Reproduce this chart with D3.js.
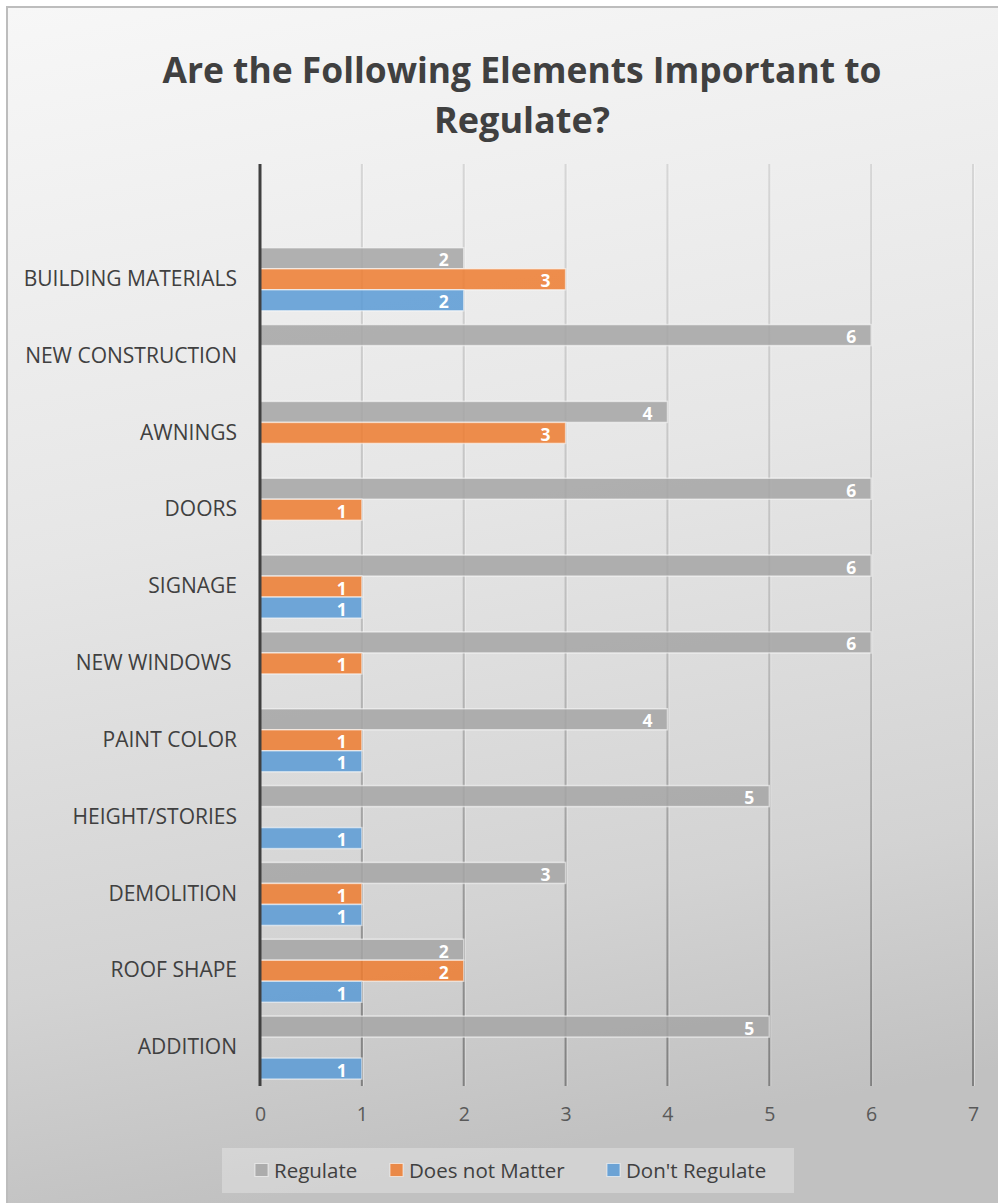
<!DOCTYPE html>
<html>
<head>
<meta charset="utf-8">
<script src="https://cdn.jsdelivr.net/npm/d3@7"></script>
<style>
  html, body { margin: 0; padding: 0; background: #ffffff; }
  svg { display: block; }
  text { font-family: "Open Sans", "Noto Sans", sans-serif; }
</style>
</head>
<body>
<svg id="chart" width="998" height="1203"></svg>
<script>
// ---------- data ----------
const categories = ["BUILDING MATERIALS", "NEW CONSTRUCTION", "AWNINGS", "DOORS", "SIGNAGE",
  "NEW WINDOWS ", "PAINT COLOR", "HEIGHT/STORIES", "DEMOLITION", "ROOF SHAPE", "ADDITION"];
const seriesNames = ["Regulate", "Does not Matter", "Don't Regulate"];
const regulate      = [2, 6, 4, 6, 6, 6, 4, 5, 3, 2, 5];
const doesNotMatter = [3, null, 3, 1, 1, 1, 1, null, 1, 2, null];
const dontRegulate  = [2, null, null, null, 1, null, 1, 1, 1, 1, 1];
const xTicks = [0, 1, 2, 3, 4, 5, 6, 7];
const titleLines = ["Are the Following Elements Important to", "Regulate?"];

const seriesValues = [regulate, doesNotMatter, dontRegulate];
const colors = ["#a5a5a5", "#ed7d31", "#5b9bd5"];

// ---------- layout ----------
const W = 998, H = 1203;
const plot = { left: 260, right: 973, top: 164, bottom: 1086 };

const svg = d3.select("#chart");
const defs = svg.append("defs");

const bg = defs.append("linearGradient").attr("id", "bg")
  .attr("x1", "0").attr("y1", "0").attr("x2", "0.15").attr("y2", "1");
[[0, "#f7f7f7"], [0.45, "#e6e6e6"], [0.8, "#d3d3d3"], [1, "#c1c1c1"]].forEach(([o, c]) =>
  bg.append("stop").attr("offset", o).attr("stop-color", c));

const gg = defs.append("linearGradient").attr("id", "grid")
  .attr("gradientUnits", "userSpaceOnUse")
  .attr("x1", 0).attr("y1", plot.top).attr("x2", 0).attr("y2", plot.bottom);
[[0, "#d6d6d6"], [0.5, "#bdbdbd"], [1, "#808080"]].forEach(([o, c]) =>
  gg.append("stop").attr("offset", o).attr("stop-color", c));

// background and frame
svg.append("rect").attr("x", 0).attr("y", 0).attr("width", W).attr("height", H).attr("fill", "#ffffff");
svg.append("rect").attr("x", 7).attr("y", 7).attr("width", W + 10).attr("height", H + 10)
  .attr("fill", "url(#bg)").attr("stroke", "#bdbdbd").attr("stroke-width", 2);

// ---------- scales ----------
const x = d3.scaleLinear().domain([0, 7]).range([plot.left, plot.right]);
const y = d3.scaleBand().domain(["__top", ...categories]).range([plot.top, plot.bottom])
  .paddingInner(0.18).paddingOuter(0.09);
const ySub = d3.scaleBand().domain(seriesNames).range([0, y.bandwidth()]).padding(0);

// ---------- title ----------
const titleLen = [719, 176];
svg.append("g").selectAll("text").data(titleLines).join("text")
  .attr("x", 522).attr("y", (d, i) => 83 + i * 50)
  .attr("text-anchor", "middle")
  .attr("font-size", 36).attr("font-weight", "bold").attr("fill", "#404040")
  .attr("textLength", (d, i) => titleLen[i])
  .attr("lengthAdjust", "spacingAndGlyphs")
  .text(d => d);

// ---------- gridlines ----------
const grid = svg.append("g");
grid.selectAll("line.shadow").data(xTicks.filter(t => t > 0)).join("line")
  .attr("class", "shadow")
  .attr("x1", d => x(d) + 1.5).attr("x2", d => x(d) + 1.5)
  .attr("y1", plot.top).attr("y2", plot.bottom)
  .attr("stroke", "#ffffff").attr("stroke-opacity", 0.35).attr("stroke-width", 1);
grid.selectAll("line.g").data(xTicks.filter(t => t > 0)).join("line")
  .attr("class", "g")
  .attr("x1", d => x(d)).attr("x2", d => x(d))
  .attr("y1", plot.top).attr("y2", plot.bottom)
  .attr("stroke", "url(#grid)").attr("stroke-width", 2);

// ---------- bars ----------
const rows = categories.map((c, i) => ({
  cat: c,
  vals: seriesNames.map((s, k) => ({ s, k, v: seriesValues[k][i] }))
}));

const groups = svg.append("g").selectAll("g").data(rows).join("g")
  .attr("transform", d => `translate(0,${y(d.cat)})`);

const bars = groups.selectAll("g").data(d => d.vals.filter(v => v.v != null)).join("g");
bars.append("rect")
  .attr("x", x(0))
  .attr("y", d => ySub(d.s))
  .attr("width", d => x(d.v) - x(0))
  .attr("height", ySub.bandwidth())
  .attr("fill", d => colors[d.k]).attr("fill-opacity", 0.86)
  .attr("stroke", "#ffffff").attr("stroke-opacity", 0.55).attr("stroke-width", 1.5);
bars.append("text")
  .attr("x", d => x(d.v) - 15)
  .attr("y", d => ySub(d.s) + ySub.bandwidth() / 2 + 1)
  .attr("text-anchor", "end").attr("dominant-baseline", "central")
  .attr("font-size", 17.5).attr("font-weight", "bold").attr("fill", "#ffffff")
  .text(d => d.v);

// ---------- axes ----------
// y axis (category labels)
const yAxis = d3.axisLeft(y).tickSize(0).tickPadding(23).tickFormat(d => d === "__top" ? "" : d);
const gy = svg.append("g").attr("transform", `translate(${x(0)},0)`).call(yAxis);
gy.select(".domain").remove();
gy.selectAll("text").attr("font-size", 21).attr("fill", "#404040")
  .attr("font-family", "'Open Sans', sans-serif").style("white-space", "pre");

// vertical axis line
svg.append("line").attr("x1", x(0)).attr("x2", x(0)).attr("y1", plot.top).attr("y2", plot.bottom)
  .attr("stroke", "#404040").attr("stroke-width", 3);

// x axis
const xAxis = d3.axisBottom(x).tickValues(xTicks).tickSize(0).tickPadding(21).tickFormat(d3.format("d"));
const gx = svg.append("g").attr("transform", `translate(0,${plot.bottom})`).call(xAxis);
gx.select(".domain").remove();
gx.selectAll("text").attr("font-size", 19.5).attr("fill", "#595959")
  .attr("font-family", "'Open Sans', sans-serif");

// ---------- legend ----------
const legend = svg.append("g");
legend.append("rect").attr("x", 222).attr("y", 1148).attr("width", 572).attr("height", 45)
  .attr("fill", "#ffffff").attr("fill-opacity", 0.28);
const legendX = [255, 390, 607];
const li = legend.selectAll("g").data(seriesNames).join("g")
  .attr("transform", (d, i) => `translate(${legendX[i]},1170)`);
li.append("rect").attr("x", 0).attr("y", -6.5).attr("width", 13).attr("height", 13)
  .attr("fill", (d, i) => colors[i]).attr("fill-opacity", 0.86)
  .attr("stroke", "#ffffff").attr("stroke-opacity", 0.6).attr("stroke-width", 1);
li.append("text").attr("x", 19).attr("y", 0).attr("dominant-baseline", "central")
  .attr("font-size", 20.5).attr("fill", "#404040").text(d => d);
</script>
</body>
</html>
